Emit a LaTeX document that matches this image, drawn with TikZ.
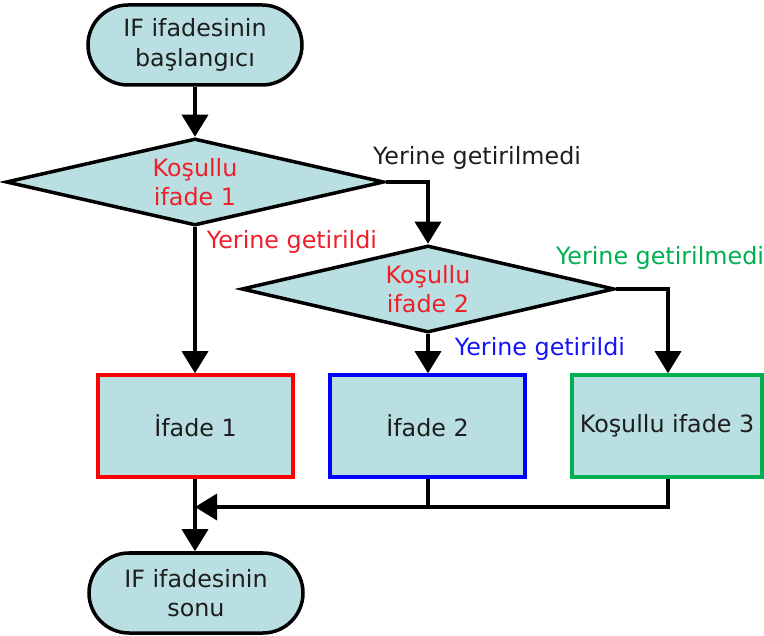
\documentclass[tikz,border=0pt]{standalone}
\usepackage{fontspec}
\setmainfont{DejaVu Sans}
\usetikzlibrary{arrows.meta,shapes.geometric,shapes.misc}
\definecolor{fillc}{RGB}{186,223,226}
\definecolor{txt}{RGB}{30,30,30}
\definecolor{myred}{RGB}{240,30,40}
\definecolor{myblue}{RGB}{20,20,245}
\definecolor{mygreen}{RGB}{0,176,80}
\definecolor{boxred}{RGB}{255,0,0}
\definecolor{boxblue}{RGB}{0,0,255}
\begin{document}
\begin{tikzpicture}[x=1pt,y=-1pt,
  every node/.style={font=\fontsize{23.8}{29.5}\selectfont, text=txt},
  term/.style={rounded rectangle, draw=black, line width=3.5pt, fill=fillc,
    minimum width=214pt, minimum height=80pt, inner sep=0pt, align=center},
  dec/.style={diamond, draw=black, line width=3.5pt, fill=fillc, aspect=5,
    minimum width=#1, minimum height=87pt, inner sep=0pt, align=center, text=myred},
  proc/.style={rectangle, draw=#1, line width=3.5pt, fill=fillc,
    minimum width=195pt, minimum height=102pt, inner sep=0pt, align=center},
  lbl/.style={inner sep=0pt, anchor=center},
  arr/.style={line width=3.5pt, -{Triangle[width=26pt,length=22pt]}},
  ln/.style={line width=3.5pt}
]
\useasboundingbox (0,0) rectangle (764,636);

\node[term] (start) at (195,45) {IF ifadesinin\\başlangıcı};
\node[dec=378pt] (d1) at (195,182) {Koşullu\\ifade 1};
\node[dec=373pt] (d2) at (428,289) {Koşullu\\ifade 2};
\node[proc=boxred] (b1) at (195.5,426) {İfade 1};
\node[proc=boxblue] (b2) at (427.5,426) {İfade 2};
\node[proc=mygreen, minimum width=190pt] (b3) at (667,426) {Koşullu ifade 3};
\node[term] (end) at (196,593) {IF ifadesinin\\sonu};

\node[lbl] (l1) at (477,158) {Yerine getirilmedi};
\node[lbl, text=myred] (l2) at (292,242) {Yerine getirildi};
\node[lbl, text=mygreen] (l3) at (660,258) {Yerine getirilmedi};
\node[lbl, text=myblue] (l4) at (540,349) {Yerine getirildi};

\coordinate (c1) at (428,182);
\coordinate (c2) at (668,289);
\coordinate (m3) at (668,507);
\coordinate (m2) at (428,507);
\coordinate (m1) at (195,507);

\draw[arr] (start.south) -- (d1.north);
\draw[arr] (d1.south) -- (d1.south |- b1.north);
\draw[arr] (d1.east) -- (c1) -- (c1 |- d2.north);
\draw[arr] (d2.south) -- (d2.south |- b2.north);
\draw[arr] (d2.east) -- (c2) -- (c2 |- b3.north);
\draw[ln] (b3.south -| c2) -- (m3) -- (m2);
\draw[arr] (m2) -- (m1);
\draw[ln] (b2.south -| m2) -- (m2);
\draw[arr] (b1.south -| m1) -- (m1 |- end.north);
\end{tikzpicture}
\end{document}
